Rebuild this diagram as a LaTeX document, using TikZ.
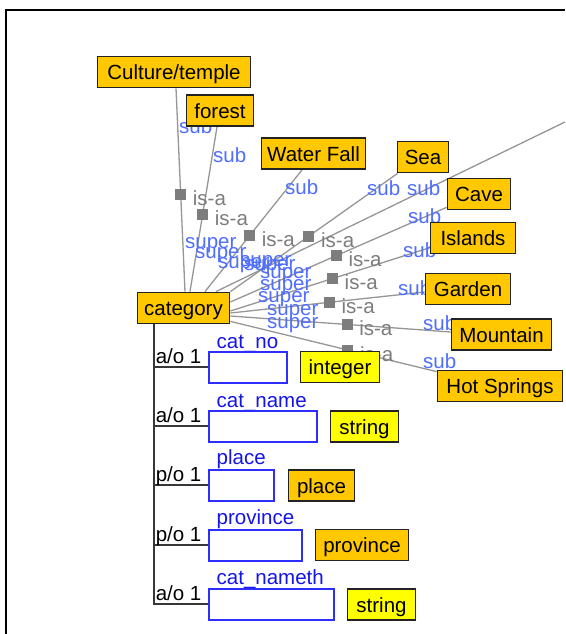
\documentclass[tikz,border=0pt]{standalone}
\usepackage{fontspec}
\setmainfont{Liberation Sans}
\usetikzlibrary{calc}
\pgfdeclarelayer{back}
\pgfsetlayers{back,main}

\definecolor{conceptfill}{RGB}{255,200,0}
\definecolor{typefill}{RGB}{255,255,0}
\definecolor{boxline}{RGB}{35,35,35}
\definecolor{slotblue}{RGB}{45,45,255}
\definecolor{slottext}{RGB}{20,20,235}
\definecolor{roleblue}{RGB}{80,110,255}
\definecolor{linkgray}{RGB}{150,150,150}
\definecolor{isagray}{RGB}{125,125,125}
\definecolor{treegray}{RGB}{55,55,55}

\tikzset{
  txt/.style={font=\fontsize{20.5}{24}\selectfont, inner sep=0pt},
  boxtxt/.style={txt, text height=15pt, text depth=0pt},
  concept/.style={boxtxt, draw=boxline, line width=1.8pt, fill=conceptfill, text=black, minimum height=31pt},
  typebox/.style={boxtxt, draw=boxline, line width=1.8pt, fill=typefill, text=black, minimum height=31pt},
  slotbox/.style={draw=slotblue, line width=2pt, fill=white, inner sep=0pt, minimum height=31pt},
  slotlbl/.style={txt, text=slottext, anchor=base west},
  link/.style={draw=linkgray, line width=1.3pt},
  isasq/.style={fill=isagray, minimum size=11pt, inner sep=0pt},
  isalbl/.style={txt, text=isagray, anchor=base west},
  rolelbl/.style={txt, text=roleblue, anchor=base west},
  tree/.style={draw=treegray, line width=1.8pt},
  treelbl/.style={txt, text=black, anchor=base west},
}

\begin{document}
\begin{tikzpicture}[x=1pt,y=-1pt]
\useasboundingbox (0,0) rectangle (565,634);

% concept nodes
\node[concept, minimum width=153pt] (culture)   at (174,72)    {Culture/temple};
\node[concept, minimum width=67pt]  (forest)    at (220,110.5) {forest};
\node[concept, minimum width=104pt] (waterfall) at (313.5,153.5) {Water Fall};
\node[concept, minimum width=51pt]  (sea)       at (423,157)   {Sea};
\node[concept, minimum width=63pt]  (cave)      at (479,194)   {Cave};
\node[concept, minimum width=85pt]  (islands)   at (473,238)   {Islands};
\node[concept, minimum width=85pt]  (garden)    at (468,289)   {Garden};
\node[concept, minimum width=100pt] (mountain)  at (501.5,334.5) {Mountain};
\node[concept, minimum width=125pt] (hotsprings) at (500,386)  {Hot Springs};
\node[concept, minimum width=92pt]  (category)  at (183.5,308) {category};
\coordinate (offpage) at (565,122);

% attribute slots
\node[slotbox, minimum width=78pt]  (catno)      at (247.5,367) {};
\node[slotbox, minimum width=108pt] (catname)    at (262.5,426) {};
\node[slotbox, minimum width=65pt]  (placeslot)  at (241,485)   {};
\node[slotbox, minimum width=93pt]  (provslot)   at (255,545)   {};
\node[slotbox, minimum width=125pt] (catnameth)  at (271,604)   {};

% value types
\node[typebox, minimum width=79pt] (integer)   at (340,367)     {integer};
\node[typebox, minimum width=68pt] (stringa)   at (364.5,426.5) {string};
\node[concept, minimum width=66pt] (placetype) at (321.5,485.5) {place};
\node[concept, minimum width=93pt] (provtype)  at (362,545)     {province};
\node[typebox, minimum width=68pt] (stringb)   at (381.5,604.5) {string};

% outer frame
\draw[line width=2pt, black] (6,634) -- (6,10) -- (565,10);

\begin{pgfonlayer}{back}
\fill[white] (0,0) rectangle (565,634);

% is-a links from category
\draw[link] ($(culture.south)+(2,0)$) -- node[isasq,pos=.52] (q1) {} ($(category.north)+(1.5,0)$);
\draw[link] ($(forest.south)+(-3,0)$) -- node[isasq,pos=.53] (q2) {} ($(category.north)+(6.5,0)$);
\draw[link] ($(waterfall.south)+(-11.5,0)$) -- node[isasq,pos=.54] (q3) {} ($(category.north)+(21.5,0)$);
\draw[link] ($(sea.south west)+(1,0)$) -- node[isasq,pos=.53] (q4) {} (category.north east);
\draw[link] (offpage) -- ($(category.north)+(32.5,0)$);
\draw[link] ($(cave.south west)+(0,-3)$) -- node[isasq,pos=.51] (q6) {} ($(category.east)+(0,-6)$);
\draw[link] ($(islands.south west)+(1,-7)$) -- node[isasq,pos=.49] (q7) {} ($(category.east)+(0,3)$);
\draw[link] ($(garden.west)+(0,3)$) -- node[isasq,pos=.49] (q8) {} ($(category.east)+(0,5)$);
\draw[link] ($(mountain.west)+(0,-2.5)$) -- node[isasq,pos=.47] (q9) {} ($(category.east)+(0,8)$);
\draw[link] ($(hotsprings.north west)+(0,2)$) -- node[isasq,pos=.43] (q10) {} ($(category.south east)+(0,-3)$);

\foreach \q in {q1,q2,q3,q4,q6,q7,q8,q9,q10}
  \node[isalbl] at ($(\q)+(12,11)$) {is-a};

% role names at the sub end
\node[rolelbl] at (179,133) {sub};
\node[rolelbl] at (213,162) {sub};
\node[rolelbl] at (285,194) {sub};
\node[rolelbl] at (367,195) {sub};
\node[rolelbl] at (407,195) {sub};
\node[rolelbl] at (408,223) {sub};
\node[rolelbl] at (403,257) {sub};
\node[rolelbl] at (398,295) {sub};
\node[rolelbl] at (423,330) {sub};
\node[rolelbl] at (423,368) {sub};

% role names at the super end
\node[rolelbl] at (185,248) {super};
\node[rolelbl] at (195,258) {super};
\node[rolelbl] at (218,268) {super};
\node[rolelbl] at (244,270) {super};
\node[rolelbl] at (240,266) {super};
\node[rolelbl] at (260,278) {super};
\node[rolelbl] at (260,290) {super};
\node[rolelbl] at (258,302) {super};
\node[rolelbl] at (267,315) {super};
\node[rolelbl] at (267,328) {super};

% attribute tree
\coordinate (trunk) at ($(category.south west)+(17,0)$);
\draw[tree] (trunk) |- (catnameth.west);
\foreach \s in {catno,catname,placeslot,provslot}
  \draw[tree] (\s.west -| trunk) -- (\s.west);
\node[treelbl] at ($(catno.west -| trunk)+(2,-4)$) {a/o 1};
\node[treelbl] at ($(catname.west -| trunk)+(2,-4)$) {a/o 1};
\node[treelbl] at ($(placeslot.west -| trunk)+(2,-4)$) {p/o 1};
\node[treelbl] at ($(provslot.west -| trunk)+(2,-4)$) {p/o 1};
\node[treelbl] at ($(catnameth.west -| trunk)+(2,-4)$) {a/o 1};

% slot names; the underscore sits under the slot border
\node[slotlbl] at ($(catno.north west)+(9,-2.5)$) {cat\_no};
\node[slotlbl] at ($(catname.north west)+(9,-2)$) {cat\_name};
\node[slotlbl] at ($(placeslot.north west)+(9,-4)$) {place};
\node[slotlbl] at ($(provslot.north west)+(9,-4)$) {province};
\node[slotlbl] at ($(catnameth.north west)+(9,-3)$) {cat\_nameth};
\end{pgfonlayer}
\end{tikzpicture}
\end{document}
